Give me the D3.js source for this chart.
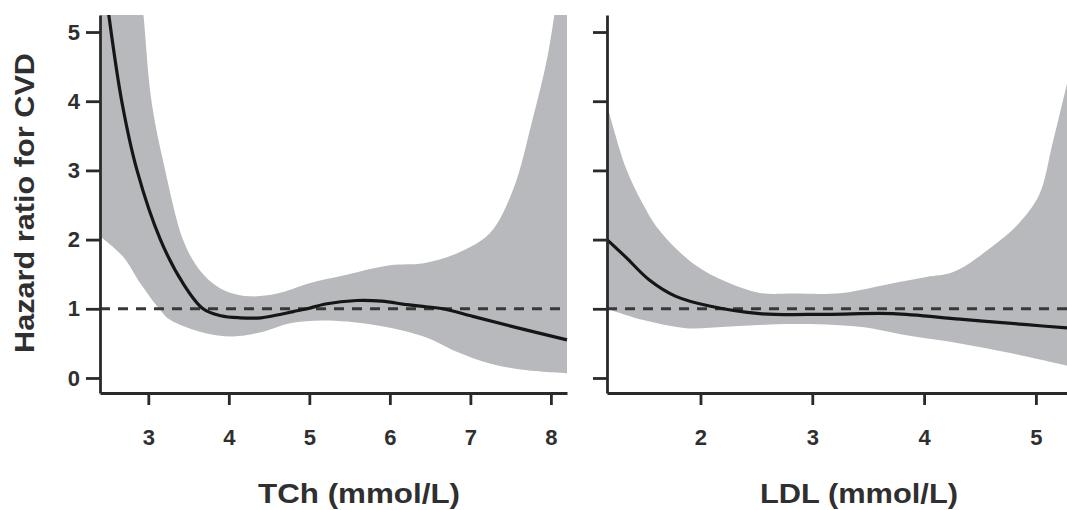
<!DOCTYPE html>
<html>
<head>
<meta charset="utf-8">
<script src="https://cdn.jsdelivr.net/npm/d3@7"></script>
<style>
  html, body { margin: 0; padding: 0; background: #fff; }
  svg { display: block; }
  text { font-family: "Liberation Sans", Arial, sans-serif; font-weight: bold; fill: #2f2f2f; }
</style>
</head>
<body>
<svg id="chart" width="1067" height="510"></svg>
<script>
// ---------- Data ----------
const yTicks = [0, 1, 2, 3, 4, 5];
const yTitle = "Hazard ratio for CVD";

// Panel 1: total cholesterol
const tchTitle = "TCh (mmol/L)";
const tchTicks = [3, 4, 5, 6, 7, 8];
const tchCurveX = [2.4, 2.51, 2.67, 2.86, 3.15, 3.43, 3.68, 3.9, 4.14, 4.4, 4.6, 4.8, 4.97, 5.2, 5.59, 5.9, 6.21, 6.45, 6.66, 7.03, 7.5, 8.2];
const tchCurveY = [6.3, 5.24, 4.0, 3.0, 2.0, 1.37, 1.0, 0.9, 0.87, 0.87, 0.91, 0.96, 1.0, 1.07, 1.12, 1.11, 1.06, 1.03, 1.0, 0.89, 0.75, 0.55];
const tchUpperX = [2.4, 2.85, 2.94, 3.04, 3.21, 3.43, 3.6, 3.8, 4.0, 4.26, 4.6, 5.0, 5.38, 6.0, 6.42, 6.83, 7.24, 7.53, 7.77, 7.95, 8.05, 8.2];
const tchUpperY = [9.0, 6.4, 5.25, 4.0, 3.0, 2.0, 1.62, 1.37, 1.24, 1.18, 1.22, 1.37, 1.47, 1.63, 1.66, 1.8, 2.09, 2.72, 3.73, 4.6, 5.3, 6.5];
const tchLowerX = [2.4, 2.69, 2.9, 3.15, 3.27, 3.64, 4.05, 4.43, 4.76, 5.17, 5.79, 6.42, 6.83, 7.24, 7.65, 8.2];
const tchLowerY = [2.05, 1.75, 1.37, 0.98, 0.84, 0.67, 0.6, 0.67, 0.79, 0.83, 0.77, 0.6, 0.38, 0.21, 0.12, 0.07];

// Panel 2: LDL cholesterol
const ldlTitle = "LDL (mmol/L)";
const ldlTicks = [2, 3, 4, 5];
const ldlCurveX = [1.164, 1.33, 1.54, 1.78, 2.08, 2.53, 3.12, 3.72, 4.32, 4.92, 5.3];
const ldlCurveY = [2.0, 1.75, 1.42, 1.18, 1.04, 0.93, 0.92, 0.93, 0.85, 0.77, 0.72];
const ldlUpperX = [1.164, 1.33, 1.48, 1.63, 1.93, 2.23, 2.53, 2.83, 3.27, 3.72, 4.02, 4.26, 4.61, 4.85, 5.03, 5.15, 5.3];
const ldlUpperY = [3.95, 3.05, 2.53, 2.14, 1.66, 1.39, 1.23, 1.22, 1.23, 1.37, 1.46, 1.53, 1.9, 2.24, 2.65, 3.4, 4.4];
const ldlLowerX = [1.164, 1.48, 1.87, 2.23, 2.83, 3.42, 3.87, 4.32, 4.77, 5.3];
const ldlLowerY = [1.0, 0.84, 0.72, 0.74, 0.78, 0.74, 0.61, 0.5, 0.36, 0.17];

const referenceHR = 1;

// ---------- Drawing ----------
const svg = d3.select("#chart");
const y = d3.scaleLinear().domain([-0.217, 5.246]).range([393, 15]);
const curve = d3.curveCatmullRom.alpha(0.5);

const zip = (xs, ys) => xs.map((v, i) => [v, ys[i]]);

function bandArea(x, upperX, upperY, lowerX, lowerY) {
  const line = d3.line().x(d => x(d[0])).y(d => y(d[1])).curve(curve);
  const p1 = line(zip(upperX, upperY));
  const p2 = line(zip(lowerX, lowerY).reverse()).replace(/^M/, "L");
  return p1 + p2 + "Z";
}

function panel(id, xDomain, xRange, ticks, curveX, curveY, upX, upY, loX, loY, title, titleX, titleLen, showYLabels) {
  const x = d3.scaleLinear().domain(xDomain).range(xRange);
  const g = svg.append("g");

  g.append("clipPath").attr("id", "clip" + id)
    .append("rect").attr("x", xRange[0]).attr("y", 15)
    .attr("width", xRange[1] - xRange[0] + 1).attr("height", 393 - 15);

  const plot = g.append("g").attr("clip-path", `url(#clip${id})`);

  plot.append("path")
    .attr("d", bandArea(x, upX, upY, loX, loY))
    .attr("fill", "#b8b9bc");

  plot.append("line")
    .attr("x1", xRange[0]).attr("x2", xRange[1] + 2)
    .attr("y1", y(referenceHR)).attr("y2", y(referenceHR))
    .attr("stroke", "#383838").attr("stroke-width", 3)
    .attr("stroke-dasharray", "10,8");

  plot.append("path")
    .attr("d", d3.line().x(d => x(d[0])).y(d => y(d[1])).curve(curve)(zip(curveX, curveY)))
    .attr("fill", "none").attr("stroke", "#161616").attr("stroke-width", 3.2);

  // Y axis
  const ya = g.append("g").attr("transform", `translate(${xRange[0]},0)`)
    .call(d3.axisLeft(y).tickValues(yTicks).tickSize(14).tickSizeOuter(0).tickPadding(6)
      .tickFormat(showYLabels ? d3.format("d") : () => ""));
  ya.select(".domain").attr("stroke", "#2a2a2a").attr("stroke-width", 2.8);
  ya.selectAll(".tick line").attr("stroke", "#2a2a2a").attr("stroke-width", 2.8);
  ya.selectAll(".tick text").style("font-size", "22px").attr("fill", "#2f2f2f")
    .style("font-family", "'Liberation Sans', Arial, sans-serif").style("font-weight", "bold");

  // X axis
  const xa = g.append("g").attr("transform", "translate(0,393)")
    .call(d3.axisBottom(x).tickValues(ticks).tickSize(12).tickSizeOuter(0).tickFormat(d3.format("d")));
  xa.select(".domain").attr("stroke", "#2a2a2a").attr("stroke-width", 2.8);
  xa.selectAll(".tick line").attr("stroke", "#2a2a2a").attr("stroke-width", 2.8);
  xa.selectAll(".tick text").style("font-size", "22px").attr("fill", "#2f2f2f")
    .style("font-family", "'Liberation Sans', Arial, sans-serif").style("font-weight", "bold")
    .attr("y", 52).attr("dy", 0);

  g.append("text")
    .attr("x", titleX).attr("y", 503)
    .attr("text-anchor", "middle")
    .attr("textLength", titleLen).attr("lengthAdjust", "spacingAndGlyphs")
    .style("font-size", "28px")
    .text(title);
}

panel(1, [2.4, 8.2], [100, 567], tchTicks, tchCurveX, tchCurveY, tchUpperX, tchUpperY, tchLowerX, tchLowerY, tchTitle, 359, 202, true);
panel(2, [1.164, 5.278], [607, 1067], ldlTicks, ldlCurveX, ldlCurveY, ldlUpperX, ldlUpperY, ldlLowerX, ldlLowerY, ldlTitle, 859, 198, false);

svg.append("text")
  .attr("transform", "translate(34,203) rotate(-90)")
  .attr("text-anchor", "middle")
  .attr("textLength", 300).attr("lengthAdjust", "spacingAndGlyphs")
  .style("font-size", "28px")
  .text(yTitle);
</script>
</body>
</html>
